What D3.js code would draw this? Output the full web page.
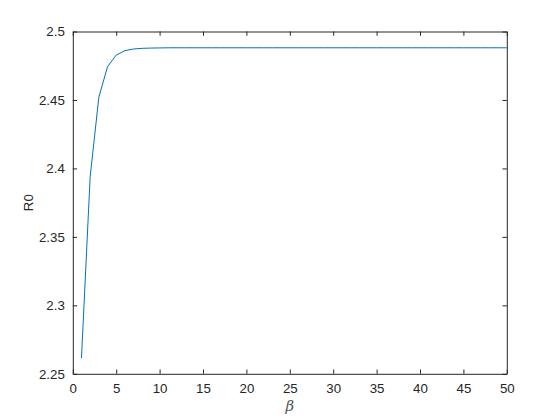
<!DOCTYPE html>
<html>
<head>
<meta charset="utf-8">
<script src="https://cdn.jsdelivr.net/npm/d3@7"></script>
<style>
  body { margin: 0; background: #fff; }
  text { font-family: "Liberation Sans", Arial, sans-serif; fill: #262626; }
</style>
</head>
<body>
<div id="chart"></div>
<script>
// beta values 1..50 and the matching R0
const betaValues = [1, 2, 3, 4, 5, 6, 7, 8, 9, 10,
    11, 12, 13, 14, 15, 16, 17, 18, 19, 20,
    21, 22, 23, 24, 25, 26, 27, 28, 29, 30,
    31, 32, 33, 34, 35, 36, 37, 38, 39, 40,
    41, 42, 43, 44, 45, 46, 47, 48, 49, 50];
const r0Values = [2.2615, 2.394, 2.452, 2.4743, 2.4828, 2.486, 2.4872, 2.4877, 2.4879, 2.488,
    2.4881, 2.4881, 2.4881, 2.4881, 2.4881, 2.4881, 2.4881, 2.4881, 2.4881, 2.4881,
    2.4881, 2.4881, 2.4881, 2.4881, 2.4881, 2.4881, 2.4881, 2.4881, 2.4881, 2.4881,
    2.4881, 2.4881, 2.4881, 2.4881, 2.4881, 2.4881, 2.4881, 2.4881, 2.4881, 2.4881,
    2.4881, 2.4881, 2.4881, 2.4881, 2.4881, 2.4881, 2.4881, 2.4881, 2.4881, 2.4881];
const xTicks = [0, 5, 10, 15, 20, 25, 30, 35, 40, 45, 50];
const yTicks = [2.25, 2.3, 2.35, 2.4, 2.45, 2.5];
const yTickLabels = ["2.25", "2.3", "2.35", "2.4", "2.45", "2.5"];

const data = betaValues.map((b, i) => ({ beta: b, r0: r0Values[i] }));

// MATLAB default axes box inside a 560x420 figure
const margin = { top: 31.5, right: 53.2, bottom: 46.2, left: 72.8 },
    width = 560 - margin.left - margin.right,
    height = 420 - margin.top - margin.bottom;

const svg = d3.select("#chart")
    .append("svg")
    .attr("width", 560)
    .attr("height", 420)
    .append("g")
    .attr("transform", `translate(${margin.left},${margin.top})`);

const x = d3.scaleLinear().domain([0, 50]).range([0, width]);
const y = d3.scaleLinear().domain([2.25, 2.5]).range([height, 0]);

const tickLen = 4.3;
const axisColor = "#262626";

// Bottom axis (ticks pointing inward)
const xAxis = svg.append("g")
    .attr("transform", `translate(0,${height})`)
    .call(d3.axisBottom(x).tickValues(xTicks).tickSizeInner(-tickLen).tickSizeOuter(0).tickPadding(10));

// Top axis ticks only
const xAxisTop = svg.append("g")
    .call(d3.axisTop(x).tickValues(xTicks).tickSizeInner(-tickLen).tickSizeOuter(0).tickFormat(""));

// Left axis
const yAxis = svg.append("g")
    .call(d3.axisLeft(y).tickValues(yTicks).tickSizeInner(-tickLen).tickSizeOuter(0).tickPadding(10)
        .tickFormat((d, i) => yTickLabels[i]));

// Right axis ticks only
const yAxisRight = svg.append("g")
    .attr("transform", `translate(${width},0)`)
    .call(d3.axisRight(y).tickValues(yTicks).tickSizeInner(-tickLen).tickSizeOuter(0).tickFormat(""));

[xAxis, xAxisTop, yAxis, yAxisRight].forEach(a => {
    a.selectAll(".domain").attr("stroke", axisColor).attr("stroke-width", 1);
    a.selectAll(".tick line").attr("stroke", axisColor).attr("stroke-width", 1);
    a.selectAll(".tick text")
        .style("font-family", "'Liberation Sans', Arial, sans-serif")
        .style("font-size", "13.3px")
        .attr("fill", axisColor);
});
yAxis.selectAll(".tick text").attr("dx", "0.15em");

// The curve
const line = d3.line()
    .x(d => x(d.beta))
    .y(d => y(d.r0));

svg.append("path")
    .datum(data)
    .attr("fill", "none")
    .attr("stroke", "#0072BD")
    .attr("stroke-width", 1)
    .attr("d", line);

// Axis labels
svg.append("text")
    .attr("x", width / 2)
    .attr("y", height + 37)
    .attr("text-anchor", "middle")
    .style("font-family", "'DejaVu Serif', 'Liberation Serif', serif")
    .style("font-style", "italic")
    .style("font-size", "15px")
    .style("fill", "#555")
    .text("β");

svg.append("text")
    .attr("transform", `translate(${33 - margin.left},${height / 2}) rotate(-90)`)
    .attr("text-anchor", "middle")
    .style("font-size", "13.3px")
    .text("R0");
</script>
</body>
</html>
